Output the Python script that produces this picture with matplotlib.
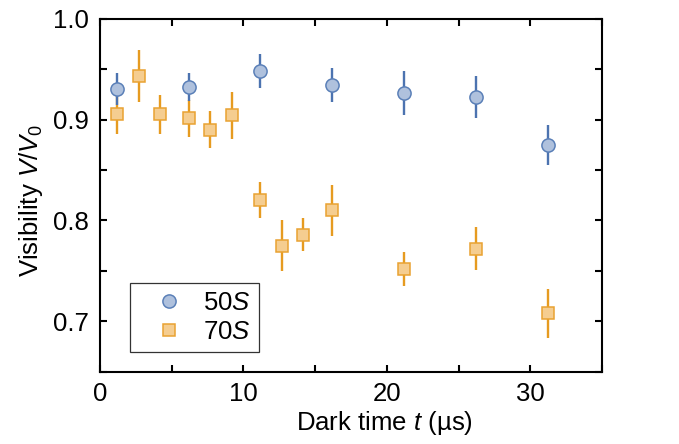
import matplotlib
matplotlib.use('Agg')
import matplotlib.pyplot as plt
from matplotlib.lines import Line2D

plt.rcParams['font.family'] = ['Liberation Sans', 'DejaVu Sans']
plt.rcParams['mathtext.fontset'] = 'custom'
plt.rcParams['mathtext.rm'] = 'Liberation Sans'
plt.rcParams['mathtext.it'] = 'Liberation Sans:italic'

# 50S data
t_50 = [1.16, 6.18, 11.17, 16.19, 21.18, 26.18, 31.2]
v_50 = [0.930, 0.932, 0.948, 0.934, 0.926, 0.922, 0.875]
e_50 = [0.016, 0.014, 0.017, 0.017, 0.022, 0.021, 0.020]

# 70S data
t_70 = [1.16, 2.69, 4.18, 6.18, 7.69, 9.17, 11.17, 12.68, 14.17, 16.19, 21.18, 26.18, 31.2]
v_70 = [0.905, 0.943, 0.905, 0.901, 0.890, 0.904, 0.820, 0.775, 0.786, 0.810, 0.752, 0.772, 0.708]
e_70 = [0.019, 0.026, 0.019, 0.018, 0.018, 0.023, 0.018, 0.025, 0.0165, 0.025, 0.017, 0.0215, 0.024]

blue_face, blue_edge, blue_err = '#afc1dd', '#5b80b8', '#4c73b0'
orange_face, orange_edge, orange_err = '#f5cd90', '#e9a232', '#e69b20'

fs = 18.5

fig = plt.figure(figsize=(6.79, 4.44), dpi=100)
ax = fig.add_axes([0.1473, 0.1622, 0.7393, 0.7961])

ax.errorbar(t_70, v_70, yerr=e_70, fmt='none', ecolor=orange_err, elinewidth=1.7, capsize=0, zorder=2)
ax.plot(t_70, v_70, 's', ms=8, mfc=orange_face, mec=orange_edge, mew=1.1, zorder=3)
ax.errorbar(t_50, v_50, yerr=e_50, fmt='none', ecolor=blue_err, elinewidth=1.7, capsize=0, zorder=4)
ax.plot(t_50, v_50, 'o', ms=9.5, mfc=blue_face, mec=blue_edge, mew=1.1, zorder=5)

ax.set_xlim(0, 35)
ax.set_ylim(0.65, 1.0)
ax.set_xticks(range(0, 36, 5))
ax.set_xticklabels(['0', '', '10', '', '20', '', '30', ''])
ax.set_yticks([0.65, 0.7, 0.75, 0.8, 0.85, 0.9, 0.95, 1.0])
ax.set_yticklabels(['', '0.7', '', '0.8', '', '0.9', '', '1.0'])
ax.tick_params(direction='in', top=True, right=True, length=5, width=1.5,
               labelsize=fs)
ax.tick_params(axis='x', pad=7)
ax.tick_params(axis='y', pad=8)
for s in ax.spines.values():
    s.set_linewidth(1.5)

ax.set_xlabel('Dark time $t$ (\u00b5s)', fontsize=fs, labelpad=0)
ax.set_ylabel('Visibility $V/V_0$', fontsize=fs, labelpad=6)
ax.xaxis.set_label_coords(0.567, -0.105)
ax.yaxis.label.set_y(0.485)

handles = [
    Line2D([], [], ls='none', marker='o', ms=9.5, mfc=blue_face, mec=blue_edge, mew=1.1),
    Line2D([], [], ls='none', marker='s', ms=8, mfc=orange_face, mec=orange_edge, mew=1.1),
]
leg = ax.legend(handles, ['50$S$', '70$S$'], loc='lower left', bbox_to_anchor=(0.06, 0.057),
                borderaxespad=0, fontsize=fs, frameon=True, fancybox=False, edgecolor='black',
                handletextpad=0.15, borderpad=0.3, labelspacing=0.2, handlelength=2.4)
leg.get_frame().set_linewidth(0.9)

fig.savefig('out.png', dpi=100)
